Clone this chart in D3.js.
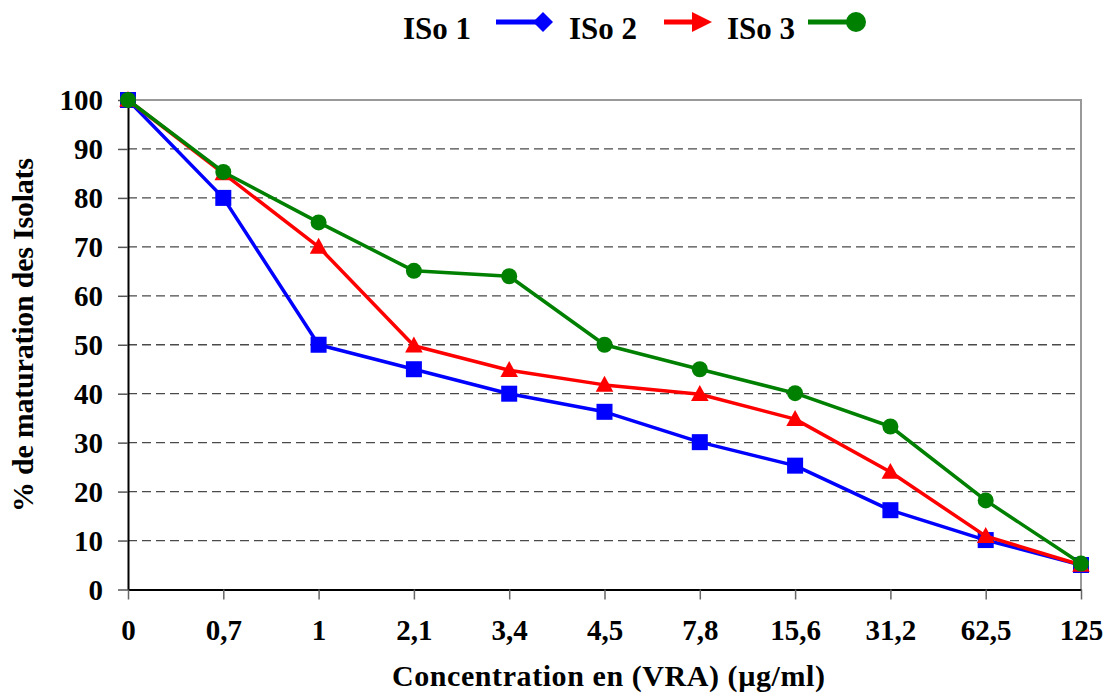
<!DOCTYPE html>
<html>
<head>
<meta charset="utf-8">
<script src="https://cdn.jsdelivr.net/npm/d3@7"></script>
<style>
  html, body { margin: 0; padding: 0; background: #fff; }
  svg { display: block; }
  text { font-family: "Liberation Serif", "Times New Roman", serif; font-weight: bold; fill: #000; }
</style>
</head>
<body>
<svg id="chart" width="1109" height="694"></svg>
<script>
// Concentrations tested (categorical axis)
const concentrations = ["0", "0,7", "1", "2,1", "3,4", "4,5", "7,8", "15,6", "31,2", "62,5", "125"];
// Maturation percentages per isolate
const iso1 = [100, 80, 50, 45, 40, 36.3, 30.1, 25.3, 16.2, 10.1, 5];
const iso2 = [100, 85, 70, 49.8, 44.8, 41.8, 39.9, 34.8, 24, 10.9, 5];
const iso3 = [100, 85.3, 75, 65.1, 64, 50, 45, 40.1, 33.3, 18.2, 5.3];
const seriesNames = ["ISo 1", "ISo 2", "ISo 3"];
const yTicks = [0, 10, 20, 30, 40, 50, 60, 70, 80, 90, 100];
const xTitle = "Concentration en (VRA) (µg/ml)";
const yTitle = "% de maturation des Isolats";

const series = [
  { name: seriesNames[0], values: iso1, color: "#0000ff", marker: "square", legendMarker: "diamond" },
  { name: seriesNames[1], values: iso2, color: "#ff0000", marker: "triangle", legendMarker: "arrow" },
  { name: seriesNames[2], values: iso3, color: "#008000", marker: "circle", legendMarker: "circle" }
];

const svg = d3.select("#chart");
const plotLeft = 128, plotRight = 1081, plotTop = 100, plotBottom = 589.5;

const x = d3.scalePoint().domain(concentrations).range([plotLeft, plotRight]);
const y = d3.scaleLinear().domain([0, 100]).range([plotBottom, plotTop]);

// Horizontal dashed gridlines
svg.append("g")
  .selectAll("line")
  .data(yTicks.filter(v => v > 0 && v < 100))
  .join("line")
  .attr("x1", plotLeft).attr("x2", plotRight)
  .attr("y1", d => y(d)).attr("y2", d => y(d))
  .attr("stroke", "#4a4a4a").attr("stroke-width", 1.3)
  .attr("stroke-dasharray", "9,5");

// Plot area frame (top and right)
svg.append("path")
  .attr("d", `M${plotLeft},${y(100)}H${plotRight}V${plotBottom}`)
  .attr("fill", "none").attr("stroke", "#999").attr("stroke-width", 2);

// Y axis
const yAxis = svg.append("g")
  .attr("transform", `translate(${plotLeft},0)`)
  .call(d3.axisLeft(y).tickValues(yTicks).tickSize(10).tickPadding(15).tickSizeOuter(0));
yAxis.attr("font-family", null);
yAxis.select(".domain").attr("stroke", "#000").attr("stroke-width", 2);
yAxis.selectAll(".tick line").attr("stroke", "#555").attr("stroke-width", 1.5);
yAxis.selectAll(".tick text")
  .style("font-family", "'Liberation Serif', serif").style("font-weight", "bold")
  .attr("font-size", 29).attr("dy", "0.34em");

// X axis
const xAxis = svg.append("g")
  .attr("transform", `translate(0,${plotBottom})`)
  .call(d3.axisBottom(x).tickSize(10).tickPadding(20).tickSizeOuter(0));
xAxis.attr("font-family", null);
xAxis.select(".domain").attr("stroke", "#000").attr("stroke-width", 2);
xAxis.selectAll(".tick line").attr("stroke", "#666").attr("stroke-width", 1.5);
xAxis.selectAll(".tick text")
  .style("font-family", "'Liberation Serif', serif").style("font-weight", "bold")
  .attr("font-size", 29).attr("dy", "0.71em");

// Axis titles
svg.append("text")
  .attr("x", 392).attr("y", 686)
  .attr("font-size", 30)
  .attr("textLength", 433).attr("lengthAdjust", "spacing")
  .text(xTitle);
svg.append("text")
  .attr("transform", "translate(33,512) rotate(-90)")
  .attr("font-size", 30)
  .attr("textLength", 354).attr("lengthAdjust", "spacing")
  .text(yTitle);

// Marker drawing
function drawMarker(g, type, cx, cy, color, s) {
  if (type === "square") {
    g.append("rect").attr("x", cx - s / 2).attr("y", cy - s / 2)
      .attr("width", s).attr("height", s).attr("fill", color);
  } else if (type === "triangle") {
    const h = s * 0.95;
    g.append("path")
      .attr("d", `M${cx},${cy - h * 0.6}L${cx + s * 0.55},${cy + h * 0.45}L${cx - s * 0.55},${cy + h * 0.45}Z`)
      .attr("fill", color);
  } else if (type === "circle") {
    g.append("circle").attr("cx", cx).attr("cy", cy).attr("r", s / 2).attr("fill", color);
  } else if (type === "diamond") {
    g.append("path")
      .attr("d", `M${cx},${cy - s / 2}L${cx + s / 2},${cy}L${cx},${cy + s / 2}L${cx - s / 2},${cy}Z`)
      .attr("fill", color);
  } else if (type === "arrow") {
    g.append("path")
      .attr("d", `M${cx - s / 2},${cy - s / 2}L${cx + s / 2},${cy}L${cx - s / 2},${cy + s / 2}Z`)
      .attr("fill", color);
  }
}

// Series lines and markers
const line = d3.line().x((d, i) => x(concentrations[i])).y(d => y(d));
series.forEach(s => {
  const g = svg.append("g");
  g.append("path")
    .datum(s.values)
    .attr("d", line)
    .attr("fill", "none").attr("stroke", s.color).attr("stroke-width", 3.5)
    .attr("stroke-linejoin", "round");
  s.values.forEach((v, i) => {
    drawMarker(g, s.marker, x(concentrations[i]), y(v), s.color, 16);
  });
});

// Legend: label followed by its line symbol
const legendItems = [
  { textX: 403, lineX1: 496, lineX2: 543, markX: 543 },
  { textX: 569, lineX1: 664, lineX2: 700, markX: 702 },
  { textX: 727, lineX1: 808, lineX2: 856, markX: 856 }
];
const legend = svg.append("g");
series.forEach((s, i) => {
  const it = legendItems[i];
  legend.append("text")
    .attr("x", it.textX).attr("y", 39)
    .attr("font-size", 31)
    .text(s.name);
  legend.append("line")
    .attr("x1", it.lineX1).attr("x2", it.lineX2)
    .attr("y1", 22).attr("y2", 22)
    .attr("stroke", s.color).attr("stroke-width", 5);
  drawMarker(legend, s.legendMarker, it.markX, 22, s.color, 20);
});
</script>
</body>
</html>
